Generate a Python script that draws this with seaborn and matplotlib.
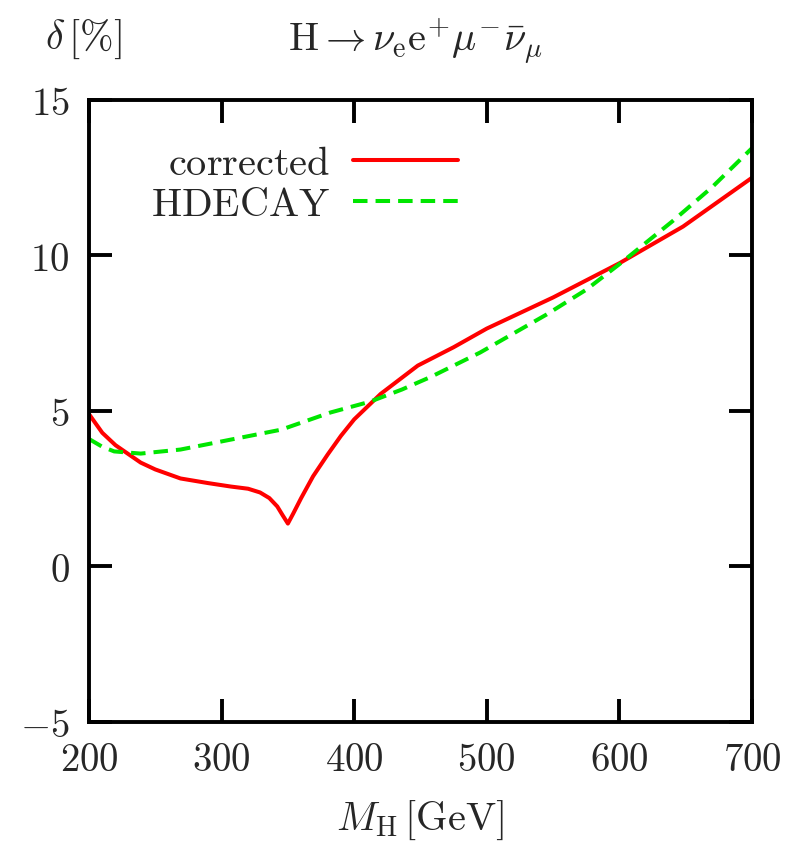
import numpy as np
import pandas as pd
import matplotlib
matplotlib.use("Agg")
import matplotlib.pyplot as plt
import seaborn as sns
from matplotlib.ticker import FuncFormatter, MultipleLocator

# Data
corr_mh = [200, 210, 220, 239, 250, 269, 290, 307, 320, 329, 336, 342, 346, 350, 354, 360, 369, 380, 390, 400, 420, 448, 475, 500, 550, 595, 600, 648, 700]
corr_delta = [4.9, 4.3, 3.9, 3.34, 3.12, 2.83, 2.68, 2.57, 2.5, 2.38, 2.2, 1.93, 1.65, 1.38, 1.7, 2.2, 2.9, 3.6, 4.2, 4.73, 5.55, 6.46, 7.05, 7.65, 8.65, 9.64, 9.75, 10.93, 12.5]
hdec_mh = [200, 210, 219, 239, 269, 307, 345, 382, 412, 436, 458, 495, 545, 575, 600, 640, 670, 700]
hdec_delta = [4.1, 3.85, 3.7, 3.63, 3.76, 4.08, 4.4, 4.95, 5.3, 5.69, 6.1, 6.88, 8.1, 8.9, 9.72, 11.1, 12.2, 13.45]

series = ["corrected"] * len(corr_mh) + ["HDECAY"] * len(hdec_mh)
df = pd.DataFrame({"mh": corr_mh + hdec_mh, "delta": corr_delta + hdec_delta, "series": series})

sns.set_theme(style="white")
plt.rcParams["mathtext.fontset"] = "cm"
plt.rcParams["font.family"] = ["DejaVu Serif"]

fig = plt.figure(figsize=(7.96, 8.45), dpi=100)
ax = fig.add_axes([0.1118, 0.1444, 0.8329, 0.7361])

sns.lineplot(data=df, x="mh", y="delta", hue="series", style="series",
             palette={"corrected": "#ff0000", "HDECAY": "#00e600"},
             dashes={"corrected": "", "HDECAY": (3.6, 2.0)},
             hue_order=["corrected", "HDECAY"], style_order=["corrected", "HDECAY"],
             linewidth=2.9, ax=ax, legend=True, sort=False, estimator=None)

ax.set_xlim(200, 700)
ax.set_ylim(-5, 15)
ax.xaxis.set_major_locator(MultipleLocator(100))
ax.yaxis.set_major_locator(MultipleLocator(5))
fmt = FuncFormatter(lambda v, p: r"$%d$" % round(v) if v >= 0 else r"$-%d$" % round(-v))
ax.xaxis.set_major_formatter(fmt)
ax.yaxis.set_major_formatter(fmt)
ax.tick_params(direction="in", length=16.5, width=2.8, top=True, right=True,
               bottom=True, left=True, labelsize=28, color="black")
ax.tick_params(axis="x", pad=14)
ax.tick_params(axis="y", pad=14)
for s in ax.spines.values():
    s.set_linewidth(2.8)
    s.set_color("black")
ax.set_xlabel(r"$M_{\mathrm{H}}\,[\mathrm{GeV}]$", fontsize=29, labelpad=14)
ax.set_ylabel("")
ax.grid(False)

fig.text(0.056, 0.953, r"$\delta\,[\%]$", fontsize=29, ha="left", va="center")
fig.text(0.522, 0.950, r"$\mathrm{H}\rightarrow\nu_{\mathrm{e}}\mathrm{e}^{+}\mu^{-}\bar{\nu}_{\mu}$",
         fontsize=29, ha="center", va="center")

handles, labels = ax.get_legend_handles_labels()
leg = ax.legend(handles, [r"$\mathrm{corrected}$", r"$\mathrm{HDECAY}$"], loc="upper right",
                bbox_to_anchor=(0.611, 0.9855), frameon=False, markerfirst=False,
                fontsize=29, handlelength=2.6, handletextpad=0.57, labelspacing=0.1)

fig.savefig("out.png", dpi=100)
